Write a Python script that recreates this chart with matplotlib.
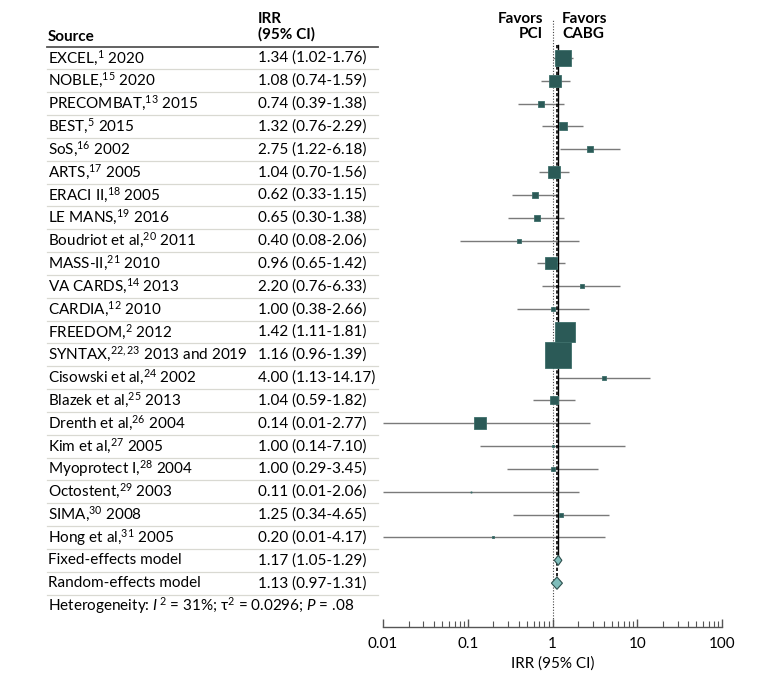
import numpy as np
import matplotlib
matplotlib.use("Agg")
import matplotlib.pyplot as plt
import matplotlib.transforms as mtransforms
from matplotlib.ticker import LogLocator, NullFormatter, FixedLocator, FixedFormatter

plt.rcParams['font.family'] = ['Lato', 'DejaVu Sans']
plt.rcParams['mathtext.fontset'] = 'custom'
plt.rcParams['mathtext.rm'] = 'Lato'
plt.rcParams['mathtext.it'] = 'Lato:italic'
plt.rcParams['mathtext.default'] = 'regular'

# study rows
sources = [
    "EXCEL,$^{1}$ 2020", "NOBLE,$^{15}$ 2020", "PRECOMBAT,$^{13}$ 2015", "BEST,$^{5}$ 2015",
    "SoS,$^{16}$ 2002", "ARTS,$^{17}$ 2005", "ERACI II,$^{18}$ 2005", "LE MANS,$^{19}$ 2016",
    "Boudriot et al,$^{20}$ 2011", "MASS-II,$^{21}$ 2010", "VA CARDS,$^{14}$ 2013",
    "CARDIA,$^{12}$ 2010", "FREEDOM,$^{2}$ 2012", "SYNTAX,$^{22,23}$ 2013 and 2019",
    "Cisowski et al,$^{24}$ 2002", "Blazek et al,$^{25}$ 2013", "Drenth et al,$^{26}$ 2004",
    "Kim et al,$^{27}$ 2005", "Myoprotect I,$^{28}$ 2004", "Octostent,$^{29}$ 2003",
    "SIMA,$^{30}$ 2008", "Hong et al,$^{31}$ 2005",
]
irr = [1.34, 1.08, 0.74, 1.32, 2.75, 1.04, 0.62, 0.65, 0.40, 0.96, 2.20, 1.00, 1.42, 1.16,
       4.00, 1.04, 0.14, 1.00, 1.00, 0.11, 1.25, 0.20]
lo = [1.02, 0.74, 0.39, 0.76, 1.22, 0.70, 0.33, 0.30, 0.08, 0.65, 0.76, 0.38, 1.11, 0.96,
      1.13, 0.59, 0.01, 0.14, 0.29, 0.01, 0.34, 0.01]
hi = [1.76, 1.59, 1.38, 2.29, 6.18, 1.56, 1.15, 1.38, 2.06, 1.42, 6.33, 2.66, 1.81, 1.39,
      14.17, 1.82, 2.77, 7.10, 3.45, 2.06, 4.65, 4.17]
# approximate study weights (%)
weights = [12.6, 6.3, 2.1, 2.8, 1.1, 6.3, 2.1, 1.6, 0.4, 6.3, 0.9, 0.9, 15.8, 29.5,
           0.4, 2.8, 6.3, 0.3, 0.7, 0.05, 0.7, 0.2]

# pooled estimates
pooled_labels = ["Fixed-effects model", "Random-effects model"]
pooled_est = [1.17, 1.13]
pooled_lo = [1.05, 0.97]
pooled_hi = [1.29, 1.31]

FS = 11

fig = plt.figure(figsize=(7.8, 6.81), dpi=100)
ax = fig.add_axes([383 / 780, 54 / 681, 339 / 780, 617 / 681])
ax.set_xscale('log')
ax.set_xlim(0.01, 100)
n = len(sources)
ax.set_ylim(24.92, -2.1)

dark = '#2b5a57'
gray = '#7a7a7a'

ys = np.arange(n)
for y, e, l, h, w in zip(ys, irr, lo, hi, weights):
    ax.plot([l, h], [y, y], color=gray, lw=1, zorder=2, solid_capstyle='butt')
    side_px = np.sqrt(w * 22.9)
    ax.plot(e, y, marker='s', ms=max(side_px * 0.72, 0.8), color=dark,
            mec='#3d6e6a', mew=0.6, zorder=4)

# reference lines
ax.axvline(1, ymin=0, ymax=0.985, color='#444444', lw=0.8, ls=(0, (1, 1.5)), zorder=1)
ax.plot([pooled_est[0]] * 2, [-0.55, n], color='black', lw=1.0, zorder=3)
ax.plot([pooled_est[1]] * 2, [-0.55, n + 1], color='black', lw=1.2,
        ls=(0, (2, 1.2)), zorder=3)

# diamonds
half_h = [0.22, 0.27]
for k in range(2):
    y = n + k
    xs = [pooled_lo[k], pooled_est[k], pooled_hi[k], pooled_est[k]]
    yy = [y, y - half_h[k], y, y + half_h[k]]
    ax.fill(xs, yy, facecolor='#7fbdbb', edgecolor='#2d4f4d', lw=0.8, zorder=5)

# axes styling
for s in ['top', 'right', 'left']:
    ax.spines[s].set_visible(False)
ax.spines['bottom'].set_color('#555555')
ax.spines['bottom'].set_linewidth(1.0)
ax.set_yticks([])
ax.xaxis.set_major_locator(FixedLocator([0.01, 0.1, 1, 10, 100]))
ax.xaxis.set_major_formatter(FixedFormatter(['0.01', '0.1', '1', '10', '100']))
ax.xaxis.set_minor_locator(LogLocator(base=10, subs=np.arange(2, 10)))
ax.xaxis.set_minor_formatter(NullFormatter())
ax.tick_params(axis='x', which='major', direction='in', length=6, width=1,
               color='#555555', labelsize=FS, pad=7)
ax.tick_params(axis='x', which='minor', direction='in', length=4, width=0.8,
               color='#555555')
ax.set_xlabel('IRR (95% CI)', fontsize=FS, labelpad=4)

# favors labels
ax.annotate('Favors\nPCI', xy=(1, -1.36), xytext=(-7, 0), textcoords='offset points',
            ha='right', va='center', fontsize=FS, fontweight='bold', linespacing=1.1)
ax.annotate('Favors\nCABG', xy=(1, -1.36), xytext=(7, 0), textcoords='offset points',
            ha='left', va='center', fontsize=FS, fontweight='bold', linespacing=1.1)

# table on the left
tr = mtransforms.blended_transform_factory(fig.transFigure, ax.transData)
x_src = 48 / 780
x_irr = 258 / 780
x_end = 378 / 780
ax.text(x_src, -0.92, 'Source', transform=tr, ha='left', va='center',
        fontsize=FS, fontweight='bold', clip_on=False)
ax.text(x_irr, -1.36, 'IRR\n(95% CI)', transform=tr, ha='left', va='center',
        fontsize=FS, fontweight='bold', clip_on=False, linespacing=1.1)
ax.plot([47 / 780, x_end], [-0.5, -0.5], transform=tr, color='#555555', lw=1.3,
        clip_on=False)

all_labels = sources + pooled_labels
all_est = irr + pooled_est
all_lo = lo + pooled_lo
all_hi = hi + pooled_hi
for i, (lab, e, l, h) in enumerate(zip(all_labels, all_est, all_lo, all_hi)):
    ax.text(x_src, i, lab, transform=tr, ha='left', va='center', fontsize=FS,
            clip_on=False)
    ax.text(x_irr, i, f'{e:.2f} ({l:.2f}-{h:.2f})', transform=tr, ha='left',
            va='center', fontsize=FS, clip_on=False)
    ax.plot([47 / 780, x_end], [i + 0.5, i + 0.5], transform=tr, color='#d9d9d2',
            lw=0.9, clip_on=False)

ax.text(x_src, len(all_labels), r'Heterogeneity: $\mathit{I}^{\,2}$ = 31%; τ$^{2}$ = 0.0296; $\mathit{P}$ = .08',
        transform=tr, ha='left', va='center', fontsize=FS, clip_on=False)

fig.savefig('out.png', dpi=100)
